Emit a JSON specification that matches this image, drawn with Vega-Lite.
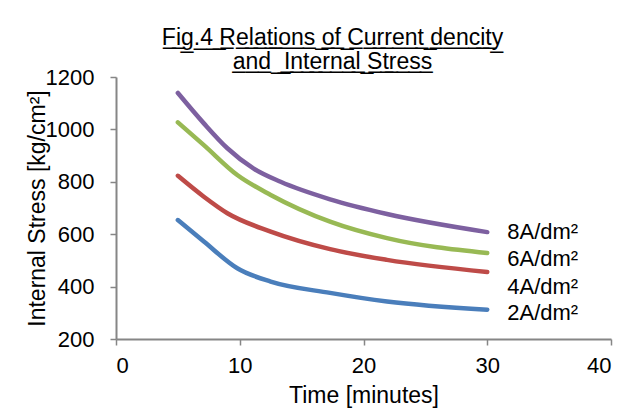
{
  "$schema": "https://vega.github.io/schema/vega-lite/v6.json",
  "autosize": "none",
  "width": 495,
  "height": 262,
  "padding": {"left": 116, "top": 77, "right": 33, "bottom": 77},
  "background": "white",
  "config": {
    "font": "Liberation Sans",
    "view": {"stroke": null}
  },
  "title": {
    "text": ["F̲i̲g̲.̲4̲ ̲R̲e̲l̲a̲t̲i̲o̲n̲s̲ ̲o̲f̲ ̲C̲u̲r̲r̲e̲n̲t̲ ̲d̲e̲n̲c̲i̲t̲y̲", "a̲n̲d̲ ̲ ̲I̲n̲t̲e̲r̲n̲a̲l̲ ̲S̲t̲r̲e̲s̲s̲"],
    "font": "Liberation Sans",
    "fontSize": 23,
    "fontWeight": "normal",
    "color": "black",
    "anchor": "middle",
    "dx": -31,
    "offset": -8,
    "lineHeight": 24
  },
  "datasets": {
    "curves": [
      {"series": "2A/dm²", "t": 5, "v": 654},
      {"series": "2A/dm²", "t": 7.1, "v": 572},
      {"series": "2A/dm²", "t": 9.8, "v": 470},
      {"series": "2A/dm²", "t": 12.5, "v": 419},
      {"series": "2A/dm²", "t": 17.3, "v": 376},
      {"series": "2A/dm²", "t": 21.9, "v": 343},
      {"series": "2A/dm²", "t": 30, "v": 312},
      {"series": "4A/dm²", "t": 5, "v": 823},
      {"series": "4A/dm²", "t": 7.1, "v": 743},
      {"series": "4A/dm²", "t": 9, "v": 680},
      {"series": "4A/dm²", "t": 12.5, "v": 610},
      {"series": "4A/dm²", "t": 17.3, "v": 543},
      {"series": "4A/dm²", "t": 21.9, "v": 502},
      {"series": "4A/dm²", "t": 30, "v": 456},
      {"series": "6A/dm²", "t": 5, "v": 1027},
      {"series": "6A/dm²", "t": 7.1, "v": 940},
      {"series": "6A/dm²", "t": 9.8, "v": 826},
      {"series": "6A/dm²", "t": 12.5, "v": 750},
      {"series": "6A/dm²", "t": 17.3, "v": 648},
      {"series": "6A/dm²", "t": 21.9, "v": 585},
      {"series": "6A/dm²", "t": 30, "v": 528},
      {"series": "8A/dm²", "t": 5, "v": 1139},
      {"series": "8A/dm²", "t": 7.1, "v": 1023},
      {"series": "8A/dm²", "t": 9, "v": 928},
      {"series": "8A/dm²", "t": 11.1, "v": 851},
      {"series": "8A/dm²", "t": 13.3, "v": 800},
      {"series": "8A/dm²", "t": 17.3, "v": 733},
      {"series": "8A/dm²", "t": 21.9, "v": 677},
      {"series": "8A/dm²", "t": 30, "v": 608}
    ],
    "labels": [
      {"series": "8A/dm²", "t": 30, "v": 610},
      {"series": "6A/dm²", "t": 30, "v": 505},
      {"series": "4A/dm²", "t": 30, "v": 398},
      {"series": "2A/dm²", "t": 30, "v": 300}
    ]
  },
  "layer": [
    {
      "data": {"name": "curves"},
      "mark": {"type": "line", "interpolate": "monotone", "strokeWidth": 4.5, "strokeCap": "round", "strokeJoin": "round"},
      "encoding": {
        "x": {"field": "t", "type": "quantitative", "scale": {"domain": [0, 40]}, "axis": {"values": [0, 10, 20, 30, 40], "format": "d", "title": "Time [minutes]", "grid": false, "domain": true, "domainColor": "#868686", "domainWidth": 2, "ticks": true, "tickColor": "#868686", "tickWidth": 1.5, "tickSize": 6, "labelFontSize": 22, "labelColor": "black", "labelPadding": 10, "titleFontSize": 23, "titleFontWeight": "normal", "titleColor": "black", "titlePadding": 8}},
        "y": {"field": "v", "type": "quantitative", "scale": {"domain": [200, 1200]}, "axis": {"values": [200, 400, 600, 800, 1000, 1200], "format": "d", "title": "Internal Stress [kg/cm²]", "grid": false, "domain": true, "domainColor": "#868686", "domainWidth": 2, "ticks": true, "tickColor": "#868686", "tickWidth": 1.5, "tickSize": 6, "labelFontSize": 22, "labelColor": "black", "labelPadding": 16, "titleFontSize": 23, "titleFontWeight": "normal", "titleColor": "black", "titlePadding": -4}},
        "color": {"field": "series", "type": "nominal", "scale": {"domain": ["2A/dm²", "4A/dm²", "6A/dm²", "8A/dm²"], "range": ["#4a7ebb", "#be4b48", "#98b954", "#7d60a0"]}, "legend": null}
      }
    },
    {
      "data": {"name": "labels"},
      "mark": {"type": "text", "align": "left", "baseline": "middle", "dx": 20, "fontSize": 22, "font": "Liberation Sans", "color": "black"},
      "encoding": {
        "x": {"field": "t", "type": "quantitative"},
        "y": {"field": "v", "type": "quantitative"},
        "text": {"field": "series"}
      }
    }
  ]
}
